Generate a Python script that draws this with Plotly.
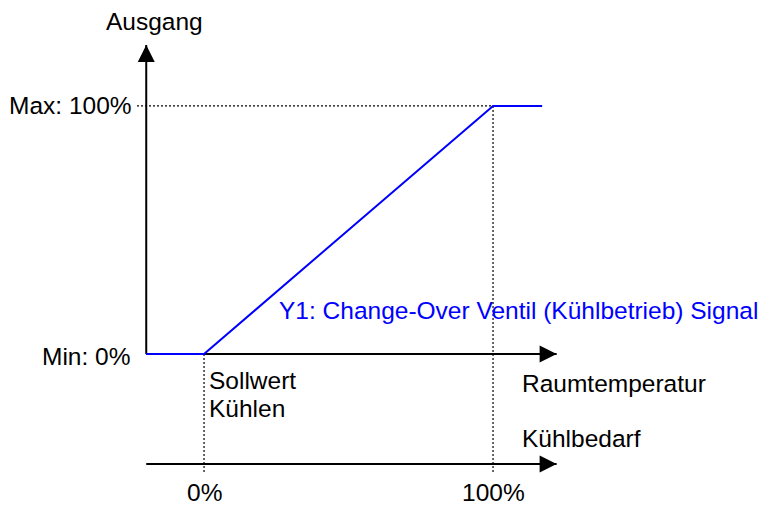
import plotly.graph_objects as go

# Y1 signal: output (%) over cooling demand (%)
demand_pct = [-20, 0, 100, 117]
signal_pct = [0, 0, 100, 100]

# axis extents (in demand % / output %)
axis_x = [-20, 122]
axis_y_top = 124.6
lower_axis_y = -44.4
guide_bottom = -47.6

demand_ticks = [0, 100]
demand_tick_labels = ["0%", "100%"]

FONT = "Arial, Liberation Sans, sans-serif"
BLUE = "#0000FF"
FS = 24.5
DOT = dict(color="black", width=1.2, dash="2px,2px")

fig = go.Figure()

# dotted guide lines
for xv, ytop in zip(demand_ticks, [0, 100]):
    fig.add_trace(go.Scatter(x=[xv, xv], y=[ytop, guide_bottom], mode="lines",
                             line=DOT, hoverinfo="skip"))
fig.add_trace(go.Scatter(x=[-23.2, 100], y=[100, 100], mode="lines",
                         line=DOT, hoverinfo="skip"))

# axes
fig.add_trace(go.Scatter(x=[axis_x[0], axis_x[0]], y=[0, axis_y_top], mode="lines",
                         line=dict(color="black", width=2), hoverinfo="skip"))
fig.add_trace(go.Scatter(x=axis_x, y=[0, 0], mode="lines",
                         line=dict(color="black", width=2), hoverinfo="skip"))
fig.add_trace(go.Scatter(x=axis_x, y=[lower_axis_y, lower_axis_y], mode="lines",
                         line=dict(color="black", width=2), hoverinfo="skip"))

# arrow heads
fig.add_trace(go.Scatter(x=[axis_x[0]], y=[axis_y_top], mode="markers",
                         marker=dict(symbol="arrow-up", size=17, color="black"),
                         hoverinfo="skip"))
fig.add_trace(go.Scatter(x=[axis_x[1], axis_x[1]], y=[0, lower_axis_y], mode="markers",
                         marker=dict(symbol="arrow-right", size=17, color="black"),
                         hoverinfo="skip"))

# signal line
fig.add_trace(go.Scatter(x=demand_pct, y=signal_pct, mode="lines",
                         line=dict(color=BLUE, width=2), hoverinfo="skip"))

txt = dict(family=FONT, size=FS, color="black")
ann = [
    dict(x=-17, y=133.9, text="Ausgang", xanchor="center"),
    dict(x=-24.2, y=100, text="Max: 100%", xanchor="right"),
    dict(x=-24.6, y=-1.2, text="Min: 0%", xanchor="right"),
    dict(x=1.0, y=-10.9, text="Sollwert", xanchor="left"),
    dict(x=1.0, y=-21.8, text="Kühlen", xanchor="left"),
    dict(x=109.3, y=-12.1, text="Raumtemperatur", xanchor="left"),
    dict(x=109.3, y=-33.9, text="Kühlbedarf", xanchor="left"),
    dict(x=25.3, y=17.7, text="Y1: Change-Over Ventil (Kühlbetrieb) Signal",
         xanchor="left", font=dict(family=FONT, size=FS, color=BLUE)),
]
for xv, lab in zip(demand_ticks, demand_tick_labels):
    ann.append(dict(x=xv, y=-56.0, text=lab, xanchor="center"))
for a in ann:
    a.setdefault("font", txt)
    fig.add_annotation(xref="x", yref="y", showarrow=False, yanchor="middle", **a)

fig.update_layout(
    width=765, height=505,
    margin=dict(l=0, r=0, t=0, b=0),
    plot_bgcolor="white", paper_bgcolor="white",
    showlegend=False,
    xaxis=dict(range=[-70.6, 194.1], visible=False, fixedrange=True),
    yaxis=dict(range=[-60.9, 142.7], visible=False, fixedrange=True),
)

# drop the default page margin so the figure sits at the window's corner
fig.write_html("out.html",
               config={"displayModeBar": False},
               post_script="document.body.style.margin='0';"
                           "document.body.style.overflow='hidden';")
